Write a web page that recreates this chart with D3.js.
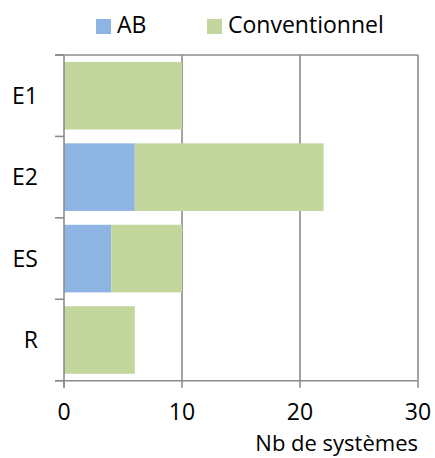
<!DOCTYPE html>
<html><head><meta charset="utf-8">
<script src="https://cdn.jsdelivr.net/npm/d3@7"></script>
<style>body{margin:0;background:#fff}svg{display:block}text{font-family:"Open Sans",sans-serif;fill:#000}</style>
</head><body><svg id="c" width="435" height="458"></svg>
<script>
const categories = ["E1","E2","ES","R"];
const abValues = [0,6,4,0];
const convValues = [10,16,6,6];
const xTicks = [0,10,20,30];
const seriesNames = ["AB","Conventionnel"];
const colors = ["#8EB4E3","#C3D69B"];

(function(){
const svg = d3.select("#c");
const pl=64, pr=418, pt=55, pb=380.7;
const x = d3.scaleLinear().domain([0,30]).range([pl,pr]);
const y = d3.scaleBand().domain(categories).range([pt,pb]).paddingInner(0.17).paddingOuter(0.085);
const grid = "#8c8c8c";
const fs = 23;

svg.append("g").selectAll("line").data(xTicks.filter(d=>d>0)).join("line")
 .attr("x1",d=>x(d)).attr("x2",d=>x(d)).attr("y1",pt).attr("y2",pb)
 .attr("stroke",grid).attr("stroke-width",1.6);
svg.append("line").attr("x1",55).attr("x2",pr).attr("y1",pt).attr("y2",pt).attr("stroke",grid).attr("stroke-width",1.6);

const table = categories.map((c,i)=>({cat:c, AB:abValues[i], Conventionnel:convValues[i]}));
const stack = d3.stack().keys(seriesNames)(table);
svg.append("g").selectAll("g").data(stack).join("g").attr("fill",(d,i)=>colors[i])
 .selectAll("rect").data(d=>d).join("rect")
 .attr("x",d=>x(d[0])).attr("width",d=>x(d[1])-x(d[0]))
 .attr("y",d=>y(d.data.cat)).attr("height",y.bandwidth());

svg.append("line").attr("x1",pl).attr("x2",pl).attr("y1",pt).attr("y2",pb+7).attr("stroke",grid).attr("stroke-width",1.6);
const bounds = categories.map(c=>y(c)-y.step()*y.paddingInner()/2).concat([pb]);
svg.append("g").selectAll("line").data(bounds).join("line")
 .attr("x1",55).attr("x2",pl).attr("y1",d=>d).attr("y2",d=>d).attr("stroke",grid).attr("stroke-width",1.6);
svg.append("g").selectAll("text").data(categories).join("text")
 .attr("x",38).attr("y",d=>y(d)+y.bandwidth()/2).attr("dy","0.35em")
 .attr("text-anchor","end").attr("font-size",fs).text(d=>d);

svg.append("line").attr("x1",55).attr("x2",pr).attr("y1",pb).attr("y2",pb).attr("stroke",grid).attr("stroke-width",1.6);
svg.append("g").selectAll("line").data(xTicks).join("line")
 .attr("x1",d=>x(d)).attr("x2",d=>x(d)).attr("y1",pb).attr("y2",pb+7).attr("stroke",grid).attr("stroke-width",1.6);
svg.append("g").selectAll("text").data(xTicks).join("text")
 .attr("x",d=>x(d)).attr("y",420).attr("text-anchor","middle").attr("font-size",fs).text(d=>d);
svg.append("text").attr("x",418).attr("y",451).attr("text-anchor","end").attr("font-size",22).text("Nb de systèmes");

const lx=[96,207];
seriesNames.forEach((n,i)=>{
  svg.append("rect").attr("x",lx[i]).attr("y",19).attr("width",15).attr("height",15).attr("fill",colors[i]);
  svg.append("text").attr("x",lx[i]+21).attr("y",33).attr("font-size",fs).text(n);
});
})();
</script></body></html>
